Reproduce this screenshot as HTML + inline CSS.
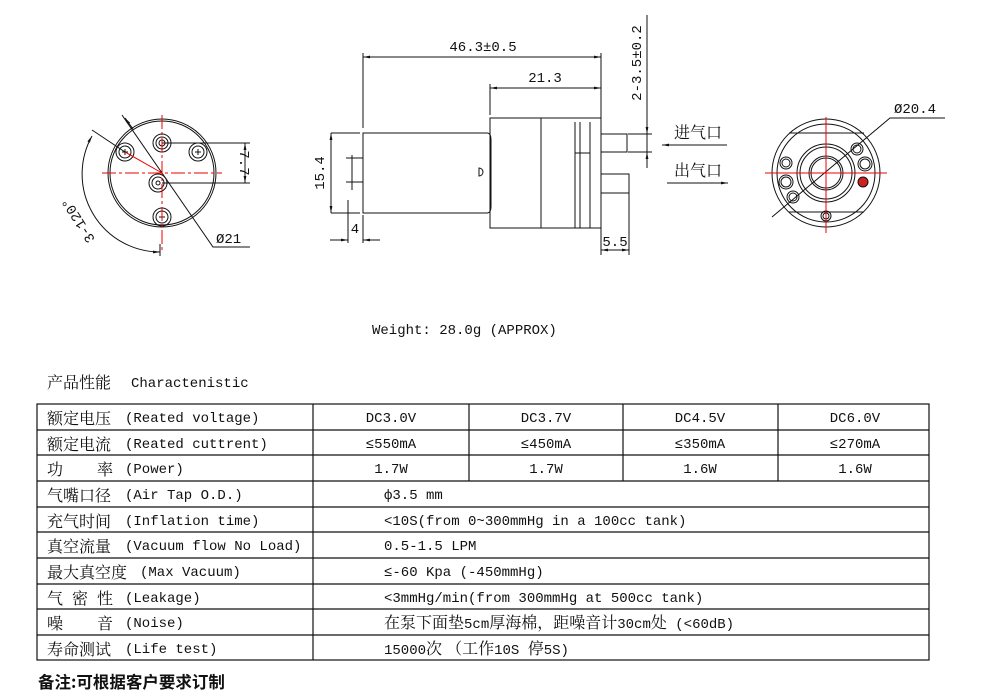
<!DOCTYPE html>
<html><head><meta charset="utf-8"><style>
html,body{margin:0;padding:0;background:#fff;}
svg{display:block}
text{font-family:"Liberation Mono","Noto Serif CJK SC","Noto Sans CJK SC",monospace;fill:#111}
.t{font-size:14px}
.c{font-family:"Noto Serif CJK SC","Noto Sans CJK SC",serif;font-size:16px}
</style></head><body>
<svg width="984" height="695" viewBox="0 0 984 695" xmlns="http://www.w3.org/2000/svg">
<defs>
<marker id="a" viewBox="0 0 10 10" refX="10" refY="5" markerWidth="7" markerHeight="7" orient="auto-start-reverse"><path d="M0,3 L10,5 L0,7 z" fill="#111"/></marker>
</defs>
<g stroke="#111" stroke-width="1" fill="none">
<!-- LEFT VIEW -->
<circle cx="162" cy="173" r="54"/>
<circle cx="162" cy="173" r="52"/>
<circle cx="162" cy="143" r="9"/><circle cx="162" cy="143" r="6"/><circle cx="162" cy="143" r="3"/>
<circle cx="158" cy="183" r="9"/><circle cx="158" cy="183" r="6"/><circle cx="158" cy="183" r="2"/>
<circle cx="125" cy="152" r="9"/><circle cx="125" cy="152" r="6"/>
<circle cx="198" cy="152" r="9"/><circle cx="198" cy="152" r="6"/>
<circle cx="162" cy="217" r="9"/><circle cx="162" cy="217" r="6"/>
<path d="M122,152h6M125,149v6M195,152h6M198,149v6M159,217h6M162,214v6"/>
<path d="M162,143H250M162,183H250"/>
<line x1="245" y1="143" x2="245" y2="183" marker-start="url(#a)" marker-end="url(#a)"/>
<path d="M122,115L213,247H250"/>
<line x1="125" y1="118" x2="133" y2="129" marker-start="url(#a)"/>
<path d="M92,136 A78,78 0 0 0 160,252" marker-start="url(#a)" marker-end="url(#a)"/>
<path d="M160,244V256M92,130L125,152"/>
</g>
<g stroke="#e00" stroke-width="1" fill="none">
<path d="M162,115V252" stroke-dasharray="14,3,3,3"/>
<path d="M102,173H222" stroke-dasharray="14,3,3,3"/>
<path d="M125,152L162,173"/>
</g>
<text class="t" transform="translate(240,163) rotate(90)" text-anchor="middle" font-size="15">7.7</text>
<text class="t" x="216" y="243" font-size="16">Ø21</text>
<text class="t" transform="translate(82,218) rotate(-122)" text-anchor="middle" font-size="15">3-120°</text>

<!-- SIDE VIEW -->
<g stroke="#111" stroke-width="1" fill="none">
<path d="M363,133H487Q491,133 491,140V206Q491,213 487,213H363Z"/>
<path d="M479,168a4,4 0 0 1 0,8z"/>
<rect x="490" y="118" width="111" height="110"/>
<path d="M541,118V228M575,122V228M580,122V228M590,122V228M575,153H590"/>
<path d="M346,158H363M346,182H363M352,155V190"/>
<rect x="601" y="134" width="26" height="18"/>
<rect x="601" y="174" width="28" height="19"/>
<path d="M363,128V53M601,118V53M490,115V84M331,133H360M331,213H360M348,200V243M363,215V243M601,228V255M629,193V255M628,134H652M628,152H652M647,15V168"/>
<line x1="363" y1="57" x2="601" y2="57" marker-start="url(#a)" marker-end="url(#a)"/>
<line x1="490" y1="88" x2="601" y2="88" marker-start="url(#a)" marker-end="url(#a)"/>
<line x1="331" y1="133" x2="331" y2="213" marker-start="url(#a)" marker-end="url(#a)"/>
<line x1="330" y1="240" x2="348" y2="240" marker-end="url(#a)"/>
<line x1="380" y1="240" x2="363" y2="240" marker-end="url(#a)"/>
<line x1="601" y1="250" x2="629" y2="250" marker-start="url(#a)" marker-end="url(#a)"/>
<line x1="647" y1="122" x2="647" y2="134" marker-end="url(#a)"/>
<line x1="647" y1="164" x2="647" y2="152" marker-end="url(#a)"/>
<line x1="727" y1="145" x2="662" y2="145" marker-end="url(#a)"/>
<line x1="667" y1="183" x2="728" y2="183" marker-end="url(#a)"/>
</g>
<text class="t" x="483" y="51" text-anchor="middle" font-size="16">46.3±0.5</text>
<text class="t" x="545" y="82" text-anchor="middle" font-size="16">21.3</text>
<text class="t" transform="translate(641,63) rotate(-90)" text-anchor="middle" font-size="16">2-3.5±0.2</text>
<text class="t" transform="translate(324,173) rotate(-90)" text-anchor="middle" font-size="16">15.4</text>
<text class="t" x="355" y="233" text-anchor="middle" font-size="16">4</text>
<text class="t" x="615" y="246" text-anchor="middle" font-size="16">5.5</text>
<text class="c" x="674" y="138">进气口</text>
<text class="c" x="674" y="176">出气口</text>

<!-- RIGHT VIEW -->
<g stroke="#111" stroke-width="1" fill="none">
<circle cx="826" cy="173" r="54"/>
<circle cx="826" cy="173" r="49"/>
<path d="M789,133H864M789,212H864"/>
<circle cx="826" cy="173" r="29"/><circle cx="826" cy="173" r="26"/>
<circle cx="826" cy="173" r="17"/><circle cx="826" cy="173" r="15"/>
<circle cx="786" cy="163" r="6"/><circle cx="786" cy="163" r="4"/>
<circle cx="786" cy="182" r="7"/><circle cx="786" cy="182" r="5"/>
<circle cx="793" cy="197" r="6"/><circle cx="793" cy="197" r="4"/>
<circle cx="857" cy="149" r="6"/><circle cx="857" cy="149" r="4"/>
<circle cx="865" cy="164" r="7"/><circle cx="865" cy="164" r="5"/>
<circle cx="826" cy="216" r="5"/><circle cx="826" cy="216" r="3"/>
<path d="M772,217L890,118H945"/>
</g>
<circle cx="863" cy="182" r="5" fill="#c22" stroke="#111"/>
<g stroke="#e00" stroke-width="1"><path d="M826,117V233M765,173H887"/></g>
<text class="t" x="894" y="113" font-size="16">Ø20.4</text>

<text class="t" x="372" y="334">Weight: 28.0g (APPROX)</text>
<text class="c" x="47" y="388">产品性能</text>
<text class="t" x="131" y="387">Charactenistic</text>

<!-- TABLE -->
<g stroke="#111" stroke-width="1.2" fill="none">
<rect x="37" y="404" width="892" height="256"/>
<path d="M37,430H929M37,455H929M37,481H929M37,507H929M37,532H929M37,558H929M37,584H929M37,609H929M37,635H929"/>
<path d="M313,404V660M469,404V481M623,404V481M778,404V481"/>
</g>
<g class="c">
<text x="47" y="424">额定电压</text>
<text x="47" y="450">额定电流</text>
<text x="47" y="475">功</text><text x="97" y="475">率</text>
<text x="47" y="501">气嘴口径</text>
<text x="47" y="527">充气时间</text>
<text x="47" y="552">真空流量</text>
<text x="47" y="578">最大真空度</text>
<text x="47" y="604">气</text><text x="72" y="604">密</text><text x="97" y="604">性</text>
<text x="47" y="629">噪</text><text x="97" y="629">音</text>
<text x="47" y="655">寿命测试</text>
</g>
<g class="t">
<text x="125" y="422">(Reated voltage)</text>
<text x="125" y="448">(Reated cuttrent)</text>
<text x="125" y="473">(Power)</text>
<text x="125" y="499">(Air Tap O.D.)</text>
<text x="125" y="525">(Inflation time)</text>
<text x="125" y="550">(Vacuum flow No Load)</text>
<text x="140" y="576">(Max Vacuum)</text>
<text x="125" y="602">(Leakage)</text>
<text x="125" y="627">(Noise)</text>
<text x="125" y="653">(Life test)</text>
</g>
<g class="t" font-size="14" text-anchor="middle">
<text x="391" y="422">DC3.0V</text><text x="546" y="422">DC3.7V</text><text x="700" y="422">DC4.5V</text><text x="855" y="422">DC6.0V</text>
<text x="391" y="448">≤550mA</text><text x="546" y="448">≤450mA</text><text x="700" y="448">≤350mA</text><text x="855" y="448">≤270mA</text>
<text x="391" y="473">1.7W</text><text x="546" y="473">1.7W</text><text x="700" y="473">1.6W</text><text x="855" y="473">1.6W</text>
</g>
<g class="t" font-size="14">
<text x="384" y="499">ф3.5 mm</text>
<text x="384" y="525">&lt;10S(from 0~300mmHg in a 100cc tank)</text>
<text x="384" y="550">0.5-1.5 LPM</text>
<text x="384" y="576">≤-60 Kpa (-450mmHg)</text>
<text x="384" y="602">&lt;3mmHg/min(from 300mmHg at 500cc tank)</text>
<text x="384" y="628"><tspan class="c">在泵下面垫</tspan>5cm<tspan class="c">厚海棉，距噪音计</tspan>30cm<tspan class="c">处</tspan> (&lt;60dB)</text>
<text x="384" y="654">15000<tspan class="c">次 （工作</tspan>10S <tspan class="c">停</tspan>5S)</text>
</g>
<text x="38" y="688" font-size="16.5" font-weight="bold" style="font-family:'Noto Sans CJK SC',sans-serif">备注:可根据客户要求订制</text>
</svg>
</body></html>
